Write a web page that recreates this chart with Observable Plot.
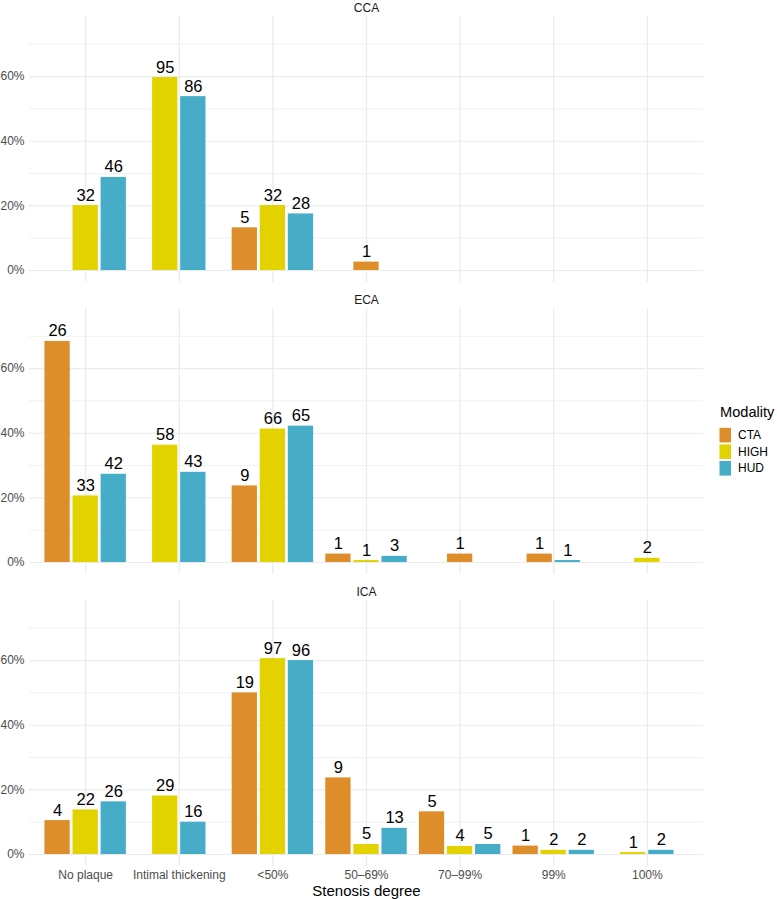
<!DOCTYPE html>
<html>
<head>
<meta charset="utf-8">
<script src="https://cdn.jsdelivr.net/npm/d3@7"></script>
<script src="https://cdn.jsdelivr.net/npm/@observablehq/plot@0.6"></script>
<style>
  html, body { margin: 0; padding: 0; background: white; }
  #wrap { position: relative; width: 777px; height: 899px; }
  #legend { position: absolute; left: 705px; top: 395px; }
</style>
</head>
<body>
<div id="wrap"></div>
<script>
// ---------- data ----------
const categories = ["No plaque", "Intimal thickening", "<50%", "50–69%", "70–99%", "99%", "100%"];
const regions = ["CCA", "ECA", "ICA"];
const modalities = ["CTA", "HIGH", "HUD"];
const colors = ["#DD8D29", "#E2D200", "#46ACC8"];
const yTicks = [0, 20, 40, 60];
const yMinorTicks = [10, 30, 50, 70];
const xTitle = "Stenosis degree";
const legendTitle = "Modality";

// counts per category (null = no bar)
const ccaCTA  = [0, null, 5, 1, null, null, null];
const ccaHIGH = [32, 95, 32, null, null, null, null];
const ccaHUD  = [46, 86, 28, null, null, null, null];
const ecaCTA  = [26, null, 9, 1, 1, 1, null];
const ecaHIGH = [33, 58, 66, 1, null, null, 2];
const ecaHUD  = [42, 43, 65, 3, null, 1, null];
const icaCTA  = [4, null, 19, 9, 5, 1, null];
const icaHIGH = [22, 29, 97, 5, 4, 2, 1];
const icaHUD  = [26, 16, 96, 13, 5, 2, 2];

// percentages (%)
const ccaCTAPct  = [0, null, 13.2, 2.6, null, null, null];
const ccaHIGHPct = [20.1, 59.7, 20.1, null, null, null, null];
const ccaHUDPct  = [28.8, 53.8, 17.5, null, null, null, null];
const ecaCTAPct  = [68.4, null, 23.7, 2.6, 2.6, 2.6, null];
const ecaHIGHPct = [20.6, 36.3, 41.3, 0.6, null, null, 1.3];
const ecaHUDPct  = [27.3, 27.9, 42.2, 1.9, null, 0.6, null];
const icaCTAPct  = [10.5, null, 50.0, 23.7, 13.2, 2.6, null];
const icaHIGHPct = [13.8, 18.1, 60.6, 3.1, 2.5, 1.3, 0.6];
const icaHUDPct  = [16.3, 10.0, 60.0, 8.1, 3.1, 1.3, 1.3];

const counts = {
  CCA: {CTA: ccaCTA, HIGH: ccaHIGH, HUD: ccaHUD},
  ECA: {CTA: ecaCTA, HIGH: ecaHIGH, HUD: ecaHUD},
  ICA: {CTA: icaCTA, HIGH: icaHIGH, HUD: icaHUD}
};
const pcts = {
  CCA: {CTA: ccaCTAPct, HIGH: ccaHIGHPct, HUD: ccaHUDPct},
  ECA: {CTA: ecaCTAPct, HIGH: ecaHIGHPct, HUD: ecaHUDPct},
  ICA: {CTA: icaCTAPct, HIGH: icaHIGHPct, HUD: icaHUDPct}
};

// ---------- dodge (centered, fixed width per bar) ----------
const slot = 0.3, barW = 0.27;
const rows = [];
for (const r of regions) {
  categories.forEach((c, i) => {
    const present = modalities.filter(m => counts[r][m][i] !== null);
    const n = present.length;
    present.forEach((m, k) => {
      rows.push({
        region: r, category: c, ci: i, modality: m,
        count: counts[r][m][i], pct: pcts[r][m][i],
        pos: i + (k - (n - 1) / 2) * slot
      });
    });
  });
}

const font = "'Liberation Sans', Arial, Helvetica, sans-serif";

const chart = Plot.plot({
  width: 777,
  height: 899,
  marginLeft: 29,
  marginRight: 74,
  marginTop: 16,
  marginBottom: 33,
  style: {fontFamily: font, fontSize: "12px", color: "#4D4D4D", background: "white"},
  x: {
    domain: [-0.6, categories.length - 0.4],
    ticks: categories.map((_, i) => i),
    tickFormat: i => categories[i],
    tickSize: 0,
    tickPadding: 4,
    label: null
  },
  y: {
    domain: [-3.71, 78.59],
    ticks: yTicks,
    tickFormat: d => d + "%",
    tickSize: 0,
    tickPadding: 5,
    label: null
  },
  fy: {domain: regions, paddingInner: 26 / 292, paddingOuter: 0, axis: null, label: null},
  color: {domain: modalities, range: colors},
  marks: [
    Plot.ruleY(yMinorTicks, {stroke: "#EBEBEB", strokeWidth: 0.7}),
    Plot.ruleY(yTicks, {stroke: "#EBEBEB", strokeWidth: 1.2}),
    Plot.ruleX(categories.map((_, i) => i), {stroke: "#EBEBEB", strokeWidth: 1.2}),
    Plot.rect(rows, {
      x1: d => d.pos - barW / 2,
      x2: d => d.pos + barW / 2,
      y1: 0,
      y2: "pct",
      fy: "region",
      fill: "modality"
    }),
    Plot.text(rows.filter(d => d.count > 0), {
      x: "pos", y: "pct", fy: "region", text: d => String(d.count),
      lineAnchor: "bottom", dy: -5, fontSize: 16.5, fill: "#000"
    }),
    Plot.text(regions, {
      fy: d => d, text: d => d, frameAnchor: "top", lineAnchor: "bottom",
      dy: -5, fontSize: 12, fill: "#1A1A1A"
    }),
    Plot.text([xTitle], {
      fy: [regions[regions.length - 1]], text: d => d, frameAnchor: "bottom",
      lineAnchor: "bottom", dy: 29, fontSize: 15, fill: "#000"
    })
  ]
});

const wrap = document.getElementById("wrap");
wrap.appendChild(chart);

// ---------- legend ----------
const lg = d3.create("svg")
  .attr("id", "legend")
  .attr("width", 72).attr("height", 90)
  .style("font-family", font);
lg.append("text").attr("x", 15).attr("y", 22)
  .attr("font-size", 14.6).attr("fill", "#000").text(legendTitle);
modalities.forEach((m, i) => {
  const y0 = 32.8 + i * 16.6;
  lg.append("rect").attr("x", 14.5).attr("y", y0).attr("width", 11.5).attr("height", 14.6)
    .attr("fill", colors[i]);
  lg.append("text").attr("x", 33).attr("y", y0 + 11.4)
    .attr("font-size", 12).attr("fill", "#000").text(m);
});
wrap.appendChild(lg.node());
</script>
</body>
</html>
